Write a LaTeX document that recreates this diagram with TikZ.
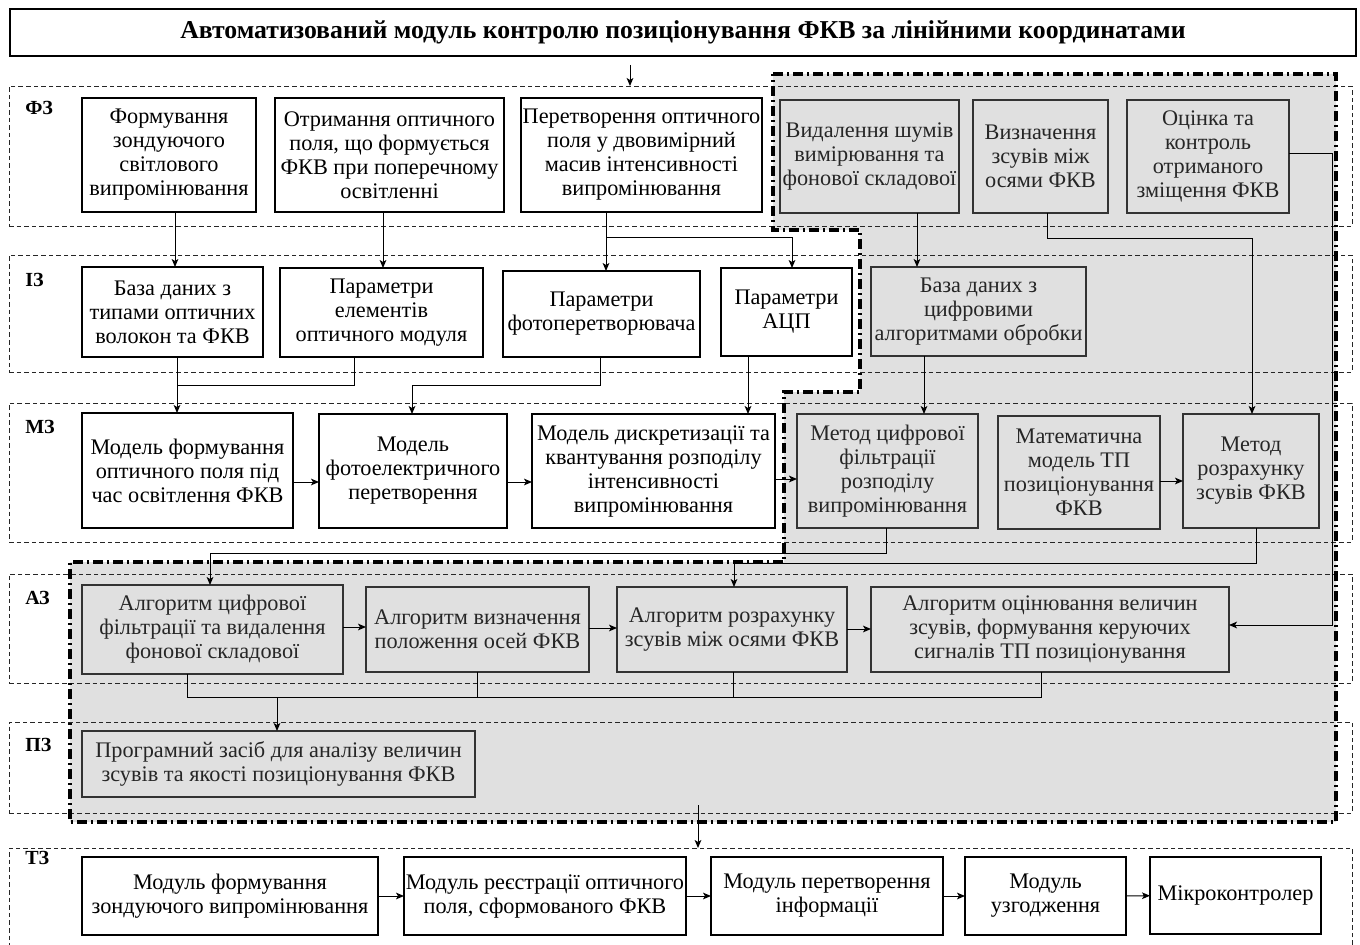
\documentclass[tikz,border=0pt]{standalone}
\usepackage{fontspec}
\setmainfont{Liberation Serif}
\usetikzlibrary{arrows.meta,calc}
\definecolor{grayfill}{RGB}{224,224,224}
\newcommand\fs{\fontsize{16.7}{18}\selectfont}
\newcommand\bx[7]{%
  \pgfmathsetmacro\bxcx{(#2+#4)/2}\pgfmathsetmacro\bxcy{(#3+#5)/2}%
  \pgfmathsetmacro\bxw{(#4-#2)*0.75}\pgfmathsetmacro\bxh{(#5-#3)*0.75}%
  \node[#6, minimum width=\bxw pt, minimum height=\bxh pt] (#1) at (\bxcx,\bxcy) {#7};}
\tikzset{
  lanebox/.style={draw=black!85, dash pattern=on 3.5pt off 2.2pt, line width=0.6pt, inner sep=0pt, outer sep=0pt},
  wbox/.style={draw=black, line width=0.8pt, fill=white, align=center, inner sep=0pt, outer sep=0pt, font=\fs},
  gbox/.style={wbox, fill=grayfill, draw=black!80, text=black!85},
  arr/.style={-{Stealth[length=6pt,width=5pt,inset=1.5pt]}, line width=0.75pt},
  ln/.style={line width=0.75pt},
  lbl/.style={font=\bfseries\fontsize{15}{18}\selectfont, anchor=base west, inner sep=0pt},
  ddash/.style={line width=2.4pt, dash pattern=on 7.5pt off 3pt on 1.5pt off 3pt},
  ttl/.style={draw=black, line width=0.8pt, inner sep=0pt, outer sep=0pt, font=\bfseries\fontsize{19.3}{22}\selectfont}
}
\begin{document}
\begin{tikzpicture}[x=0.75pt,y=-0.75pt]
\useasboundingbox (0,0) rectangle (1360,945);
\clip (0,0) rectangle (1360,945);
% gray region
\fill[grayfill] (773,74) -- (1336,74) -- (1336,822) -- (70,822) -- (70,562) -- (784,562) -- (784,392) -- (860,392) -- (860,230) -- (773,230) -- cycle;
% title
\bx{title}{10}{9}{1356}{56}{ttl}{Автоматизований модуль контролю позиціонування ФКВ за лінійними координатами}
% lanes
\bx{fzl}{9}{86}{1352}{226}{lanebox}{}
\bx{izl}{9}{255}{1352}{372}{lanebox}{}
\bx{mzl}{9}{403}{1352}{542}{lanebox}{}
\bx{azl}{9}{574}{1352}{683}{lanebox}{}
\bx{pzl}{9}{722}{1352}{813}{lanebox}{}
\bx{tzl}{9}{848}{1352}{970}{lanebox}{}
\node[lbl] (lfz) at (25,115) {ФЗ};
\node[lbl] (liz) at (25,286) {ІЗ};
\node[lbl] (lmz) at (25,433) {МЗ};
\node[lbl] (laz) at (25,604) {АЗ};
\node[lbl] (lpz) at (25,751) {ПЗ};
\node[lbl] (ltz) at (25,864) {ТЗ};
% FZ
\bx{fz1}{82}{98}{256}{212}{wbox}{Формування\\зондуючого\\світлового\\випромінювання}
\bx{fz2}{275}{98}{504}{212}{wbox}{Отримання оптичного\\поля, що формується\\ФКВ при поперечному\\освітленні}
\bx{fz3}{521}{98}{762}{212}{wbox}{Перетворення оптичного\\поля у двовимірний\\масив інтенсивності\\випромінювання}
\bx{fz4}{780}{100}{959}{213}{gbox}{Видалення шумів\\вимірювання та\\фонової складової}
\bx{fz5}{973}{100}{1108}{213}{gbox}{Визначення\\зсувів між\\осями ФКВ}
\bx{fz6}{1127}{100}{1289}{213}{gbox}{Оцінка та\\контроль\\отриманого\\зміщення ФКВ}
% IZ
\bx{iz1}{82}{267}{263}{357}{wbox}{База даних з\\типами оптичних\\волокон та ФКВ}
\bx{iz2}{280}{268}{483}{357}{wbox}{Параметри\\елементів\\оптичного модуля}
\bx{iz3}{503}{271}{700}{357}{wbox}{Параметри\\фотоперетворювача}
\bx{iz4}{721}{268}{852}{356}{wbox}{Параметри\\АЦП}
\bx{iz5}{871}{267}{1086}{356}{gbox}{База даних з\\цифровими\\алгоритмами обробки}
% MZ
\bx{mz1}{82}{413}{293}{528}{wbox}{Модель формування\\оптичного поля під\\час освітлення ФКВ}
\bx{mz2}{319}{414}{507}{528}{wbox}{Модель\\фотоелектричного\\перетворення}
\bx{mz3}{532}{414}{775}{528}{wbox}{Модель дискретизації та\\квантування розподілу\\інтенсивності\\випромінювання}
\bx{mz4}{797}{414}{978}{528}{gbox}{Метод цифрової\\фільтрації\\розподілу\\випромінювання}
\bx{mz5}{998}{416}{1160}{529}{gbox}{Математична\\модель ТП\\позиціонування\\ФКВ}
\bx{mz6}{1183}{414}{1319}{528}{gbox}{Метод\\розрахунку\\зсувів ФКВ}
% AZ
\bx{az1}{82}{585}{343}{674}{gbox}{Алгоритм цифрової\\фільтрації та видалення\\фонової складової}
\bx{az2}{366}{587}{589}{672}{gbox}{Алгоритм визначення\\положення осей ФКВ}
\bx{az3}{617}{587}{847}{672}{gbox}{Алгоритм розрахунку\\зсувів між осями ФКВ}
\bx{az4}{871}{587}{1229}{672}{gbox}{Алгоритм оцінювання величин\\зсувів, формування керуючих\\сигналів ТП позиціонування}
% PZ
\bx{pz1}{82}{731}{475}{797}{gbox}{Програмний засіб для аналізу величин\\зсувів та якості позиціонування ФКВ}
% TZ
\bx{tz1}{82}{857}{378}{935}{wbox}{Модуль формування\\зондуючого випромінювання}
\bx{tz2}{404}{857}{686}{935}{wbox}{Модуль реєстрації оптичного\\поля, сформованого ФКВ}
\bx{tz3}{711}{857}{943}{935}{wbox}{Модуль перетворення\\інформації}
\bx{tz4}{965}{857}{1126}{935}{wbox}{Модуль\\узгодження}
\bx{tz5}{1150}{857}{1321}{934}{wbox}{Мікроконтролер}
% connectors
\draw[arr] (title.south -| 630,0) ++(0,9) -- (fzl.north -| 630,0);
\draw[arr] (fz1.south -| 175,0) -- (iz1.north -| 175,0);
\draw[arr] (fz2.south -| 383,0) -- (iz2.north -| 383,0);
\draw[arr] (fz3.south -| 606,0) -- (iz3.north -| 606,0);
\draw[arr] (fz3.south -| 606,0) -- (606,237) -| (iz4.north -| 792,0);
\draw[arr] (fz4.south -| 917,0) -- (iz5.north -| 917,0);
\draw[arr] (fz5.south -| 1047,0) -- (1047,238) -| (mz6.north -| 1252,0);
\draw[arr] (fz6.east |- 0,154) -- (1332,154) -- (1332,625) -- (az4.east |- 0,625);
\draw[arr] (iz1.south -| 177,0) -- (mz1.north -| 177,0);
\draw[ln] (iz2.south -| 354,0) -- (354,385) -- (177,385);
\draw[arr] (iz3.south -| 600,0) -- (600,385) -| (mz2.north -| 412,0);
\draw[arr] (iz4.south -| 748,0) -- (mz3.north -| 748,0);
\draw[arr] (iz5.south -| 924,0) -- (mz4.north -| 924,0);
\draw[arr] (mz1.east |- 0,482) -- (mz2.west |- 0,482);
\draw[arr] (mz2.east |- 0,482) -- (mz3.west |- 0,482);
\draw[arr] (mz3.east |- 0,479) -- (mz4.west |- 0,479);
\draw[arr] (mz5.east |- 0,481) -- (mz6.west |- 0,481);
\draw[arr] (mz4.south -| 886,0) -- (886,553) -| (az1.north -| 210,0);
\draw[arr] (mz6.south -| 1256,0) -- (1256,563) -| (az3.north -| 734,0);
\draw[arr] (az1.east |- 0,627) -- (az2.west |- 0,627);
\draw[arr] (az2.east |- 0,628) -- (az3.west |- 0,628);
\draw[arr] (az3.east |- 0,629) -- (az4.west |- 0,629);
\draw[ln] (az1.south -| 187,0) -- (187,697) -- (1041,697) -- (az4.south -| 1041,0);
\draw[ln] (az2.south -| 477,0) -- (477,697);
\draw[ln] (az3.south -| 733,0) -- (733,697);
\draw[arr] (277,697) -- (pz1.north -| 277,0);
\draw[arr] (pzl.south -| 698,0) ++(0,-8) -- (tzl.north -| 698,0);
\draw[arr] (tz1) -- (tz2);
\draw[arr] (tz2) -- (tz3);
\draw[arr] (tz3) -- (tz4);
\draw[arr] (tz4) -- (tz5);
% dash-dot border
\draw[ddash] (773,74) -- (1336,74) -- (1336,822) -- (70,822) -- (70,562) -- (784,562) -- (784,392) -- (860,392) -- (860,230) -- (773,230) -- cycle;
\end{tikzpicture}
\end{document}
